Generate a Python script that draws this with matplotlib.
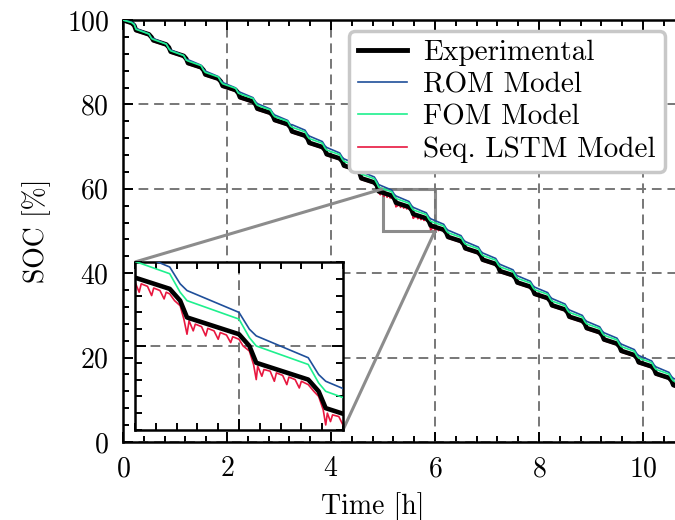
import matplotlib
matplotlib.use('Agg')
import matplotlib.pyplot as plt
from matplotlib.ticker import MultipleLocator
from mpl_toolkits.axes_grid1.inset_locator import mark_inset

plt.rcParams['font.family'] = 'cmr10'
plt.rcParams['mathtext.fontset'] = 'cm'
plt.rcParams['axes.unicode_minus'] = False
plt.rcParams['axes.formatter.use_mathtext'] = True

# time [h] of the read-off vertices (shared by experiment, ROM and FOM)
time_h = [0.0, 0.167, 0.217,
          0.25, 0.5, 0.55, 0.583, 0.833, 0.883, 0.917, 1.167, 1.217,
          1.25, 1.5, 1.55, 1.583, 1.833, 1.883, 1.917, 2.167, 2.217,
          2.25, 2.5, 2.55, 2.583, 2.833, 2.883, 2.917, 3.167, 3.217,
          3.25, 3.5, 3.55, 3.583, 3.833, 3.883, 3.917, 4.167, 4.217,
          4.25, 4.5, 4.55, 4.583, 4.833, 4.883, 4.917, 5.167, 5.217,
          5.25, 5.5, 5.55, 5.583, 5.833, 5.883, 5.917, 6.167, 6.217,
          6.25, 6.5, 6.55, 6.583, 6.833, 6.883, 6.917, 7.167, 7.217,
          7.25, 7.5, 7.55, 7.583, 7.833, 7.883, 7.917, 8.167, 8.217,
          8.25, 8.5, 8.55, 8.583, 8.833, 8.883, 8.917, 9.167, 9.217,
          9.25, 9.5, 9.55, 9.583, 9.833, 9.883, 9.917, 10.167, 10.217,
          10.25, 10.5, 10.55, 10.583, 10.833, 10.883, 10.917]

soc_exp = [100.0, 99.3, 98.7,
           97.6, 96.6, 95.9, 95.2, 94.2, 93.5, 92.5, 91.5, 90.8,
           89.8, 88.8, 88.1, 87.1, 86.1, 85.4, 84.4, 83.4, 82.7,
           81.7, 80.7, 80.0, 79.0, 78.0, 77.3, 76.3, 75.3, 74.6,
           73.6, 72.6, 71.9, 70.9, 69.9, 69.2, 68.2, 67.2, 66.5,
           65.5, 64.5, 63.8, 62.5, 61.5, 60.8, 59.4, 58.4, 57.7,
           56.7, 55.7, 55.0, 54.0, 53.0, 52.3, 51.3, 50.3, 49.6,
           48.6, 47.6, 46.9, 45.9, 44.9, 44.2, 43.2, 42.2, 41.5,
           40.5, 39.5, 38.8, 37.8, 36.8, 36.1, 35.1, 34.1, 33.4,
           32.4, 31.4, 30.7, 29.7, 28.7, 28.0, 27.0, 26.0, 25.3,
           24.3, 23.3, 22.6, 21.6, 20.6, 19.9, 18.9, 17.9, 17.2,
           16.2, 15.2, 14.5, 13.5, 12.5, 11.8, 10.8]

soc_rom = [100.0, 99.5, 99.1,
           98.0, 96.7, 95.7, 95.6, 94.3, 93.3, 92.9, 91.6, 90.6,
           90.6, 89.3, 88.3, 87.9, 86.6, 85.6, 85.2, 83.9, 82.9,
           82.9, 81.6, 80.6, 80.2, 78.9, 77.9, 77.5, 76.2, 75.2,
           75.2, 73.9, 72.9, 72.5, 71.2, 70.2, 69.8, 68.5, 67.5,
           67.1, 65.8, 64.8, 64.1, 62.8, 61.8, 61.0, 59.7, 58.7,
           58.3, 57.0, 56.0, 55.6, 54.3, 53.3, 52.9, 51.6, 50.6,
           50.2, 48.9, 47.9, 47.5, 46.2, 45.2, 44.8, 43.5, 42.5,
           42.1, 40.8, 39.8, 39.4, 38.1, 37.1, 36.7, 35.4, 34.4,
           34.0, 32.7, 31.7, 31.3, 30.0, 29.0, 28.6, 27.3, 26.3,
           25.9, 24.6, 23.6, 23.2, 21.9, 20.9, 20.5, 19.2, 18.2,
           17.8, 16.5, 15.5, 15.1, 13.8, 12.8, 12.4]

soc_fom = [100.0, 99.4, 98.9,
           97.8, 96.7, 95.6, 95.4, 94.3, 93.2, 92.7, 91.6, 90.5,
           90.3, 89.2, 88.1, 87.6, 86.5, 85.4, 84.9, 83.8, 82.7,
           82.5, 81.4, 80.3, 79.8, 78.7, 77.6, 77.1, 76.0, 74.9,
           74.6, 73.5, 72.4, 71.9, 70.8, 69.7, 69.2, 68.1, 67.0,
           66.5, 65.4, 64.3, 63.5, 62.4, 61.3, 60.4, 59.3, 58.2,
           57.7, 56.6, 55.5, 55.0, 53.9, 52.8, 52.3, 51.2, 50.1,
           49.6, 48.5, 47.4, 46.9, 45.8, 44.7, 44.2, 43.1, 42.0,
           41.5, 40.4, 39.3, 38.8, 37.7, 36.6, 36.1, 35.0, 33.9,
           33.4, 32.3, 31.2, 30.7, 29.6, 28.5, 28.0, 26.9, 25.8,
           25.3, 24.2, 23.1, 22.6, 21.5, 20.4, 19.9, 18.8, 17.7,
           17.2, 16.1, 15.0, 14.5, 13.4, 12.3, 11.8]

# LSTM estimate is noisy, read more densely inside the zoomed hour
time_lstm = [0.0, 0.167, 0.217,
             0.25, 0.5, 0.55, 0.583, 0.833, 0.883, 0.917, 1.167, 1.217,
             1.25, 1.5, 1.55, 1.583, 1.833, 1.883, 1.917, 2.167, 2.217,
             2.25, 2.5, 2.55, 2.583, 2.833, 2.883, 2.917, 3.167, 3.217,
             3.25, 3.5, 3.55, 3.583, 3.833, 3.883, 3.917, 4.167, 4.217,
             4.25, 4.5, 4.55, 4.583, 4.833, 4.883,
             4.917, 4.95, 4.96, 5.0, 5.02, 5.03, 5.06, 5.08, 5.09, 5.12,
             5.14, 5.15, 5.167, 5.19, 5.217, 5.235, 5.25, 5.26, 5.28, 5.29,
             5.32, 5.34, 5.35, 5.38, 5.40, 5.41, 5.44, 5.46, 5.47, 5.50,
             5.52, 5.55, 5.57, 5.583, 5.59, 5.61, 5.62, 5.65, 5.67, 5.68,
             5.71, 5.73, 5.74, 5.77, 5.79, 5.80, 5.833, 5.86, 5.883, 5.905,
             5.917, 5.925, 5.94, 5.95, 5.98, 6.00, 6.01, 6.04, 6.07, 6.08,
             6.167, 6.217,
             6.25, 6.5, 6.55, 6.583, 6.833, 6.883, 6.917, 7.167, 7.217,
             7.25, 7.5, 7.55, 7.583, 7.833, 7.883, 7.917, 8.167, 8.217,
             8.25, 8.5, 8.55, 8.583, 8.833, 8.883, 8.917, 9.167, 9.217,
             9.25, 9.5, 9.55, 9.583, 9.833, 9.883, 9.917, 10.167, 10.217,
             10.25, 10.5, 10.55, 10.583, 10.833, 10.883, 10.917]

soc_lstm = [99.7, 99.0, 98.4,
            97.3, 96.3, 95.6, 94.9, 93.9, 93.2, 92.2, 91.2, 90.5,
            89.5, 88.5, 87.8, 86.8, 85.8, 85.1, 84.1, 83.1, 82.4,
            81.4, 80.4, 79.7, 78.7, 77.7, 77.0, 76.0, 75.0, 74.3,
            73.3, 72.3, 71.6, 70.6, 69.6, 68.9, 67.9, 66.9, 66.2,
            65.2, 64.2, 63.5, 62.2, 61.2, 60.5,
            59.1, 58.6, 59.0, 58.8, 58.2, 58.7, 58.55, 58.0, 58.45, 58.3,
            57.8, 58.2, 58.1, 57.7, 57.4, 56.6, 55.7, 56.5, 55.9, 56.3,
            56.15, 55.6, 56.05, 55.9, 55.4, 55.8, 55.65, 55.2, 55.55, 55.4,
            55.0, 54.7, 53.9, 53.0, 53.8, 53.2, 53.6, 53.5, 52.9, 53.4,
            53.25, 52.7, 53.15, 53.0, 52.5, 52.9, 52.7, 52.3, 52.0, 51.2,
            50.3, 51.0, 50.5, 50.9, 50.8, 50.3, 50.7, 50.6, 50.1, 50.5,
            50.0, 49.3,
            48.3, 47.3, 46.6, 45.6, 44.6, 43.9, 42.9, 41.9, 41.2,
            40.2, 39.2, 38.5, 37.5, 36.5, 35.8, 34.8, 33.8, 33.1,
            32.1, 31.1, 30.4, 29.4, 28.4, 27.7, 26.7, 25.7, 25.0,
            24.0, 23.0, 22.3, 21.3, 20.3, 19.6, 18.6, 17.6, 16.9,
            15.9, 14.9, 14.2, 13.2, 12.2, 11.5, 10.5]

x_ticks = [0, 2, 4, 6, 8, 10]
y_ticks = [0, 20, 40, 60, 80, 100]
zoom_x = (5, 6)
zoom_y = (50, 60)

c_exp = 'black'
c_rom = '#1f4f9a'
c_fom = '#1ef08e'
c_lstm = '#e8173f'
grid_ls = (0, (5, 3))


def draw_lines(a, lw_exp):
    a.plot(time_lstm, soc_lstm, color=c_lstm, lw=1.2, zorder=2)
    a.plot(time_h, soc_exp, color=c_exp, lw=lw_exp, zorder=3)
    a.plot(time_h, soc_rom, color=c_rom, lw=1.2, zorder=4)
    a.plot(time_h, soc_fom, color=c_fom, lw=1.2, zorder=4)


fig = plt.figure(figsize=(6.75, 5.2), dpi=100)
ax = fig.add_axes([0.1822, 0.15, 0.8474, 0.8115])
draw_lines(ax, 3.3)
ax.set_xlim(0, 11)
ax.set_ylim(0, 100)
ax.set_xticks(x_ticks)
ax.set_yticks(y_ticks)
ax.xaxis.set_minor_locator(MultipleLocator(0.4))
ax.yaxis.set_minor_locator(MultipleLocator(4))
ax.tick_params(which='both', direction='in', top=True, right=True, width=1.4)
ax.tick_params(which='major', length=7, labelsize=20, pad=10)
ax.tick_params(which='minor', length=4)
for s in ax.spines.values():
    s.set_linewidth(1.8)
ax.grid(True, which='major', ls=grid_ls, color='#777777', lw=1.4)
ax.set_xlabel('Time [h]', fontsize=20)
ax.set_ylabel('SOC [%]', fontsize=20)
ax.xaxis.set_label_coords(0.437, -0.118)
ax.yaxis.set_label_coords(-0.126, 0.5)

handles = [plt.Line2D([], [], color=c_exp, lw=3.5),
           plt.Line2D([], [], color=c_rom, lw=1.2),
           plt.Line2D([], [], color=c_fom, lw=1.2),
           plt.Line2D([], [], color=c_lstm, lw=1.2)]
labels = ['Experimental', 'ROM Model', 'FOM Model', 'Seq. LSTM Model']
leg = ax.legend(handles, labels, loc='upper left', bbox_to_anchor=(349 / 675, 489 / 520),
                bbox_transform=fig.transFigure, borderaxespad=0, fontsize=21,
                fancybox=True, framealpha=1, handlelength=1.7, handletextpad=0.55,
                labelspacing=0.2, borderpad=0.3)
leg.get_frame().set_edgecolor('#c8c8c8')
leg.get_frame().set_linewidth(2.5)

axins = fig.add_axes([0.2, 0.1731, 0.3081, 0.3231])
draw_lines(axins, 3.3)
axins.set_xlim(*zoom_x)
axins.set_ylim(*zoom_y)
axins.set_xticks([5.5])
axins.set_yticks([55])
axins.xaxis.set_minor_locator(MultipleLocator(0.1))
axins.yaxis.set_minor_locator(MultipleLocator(1))
axins.tick_params(which='both', direction='in', top=True, right=True, width=1.4,
                  labelbottom=False, labelleft=False)
axins.tick_params(which='major', length=8)
axins.tick_params(which='minor', length=5)
for s in axins.spines.values():
    s.set_linewidth(1.8)
axins.grid(True, which='major', ls=grid_ls, color='#777777', lw=1.4)
mark_inset(ax, axins, loc1=2, loc2=4, fc='none', ec='#8c8c8c', lw=2.2)

fig.savefig('out.png', dpi=100)
